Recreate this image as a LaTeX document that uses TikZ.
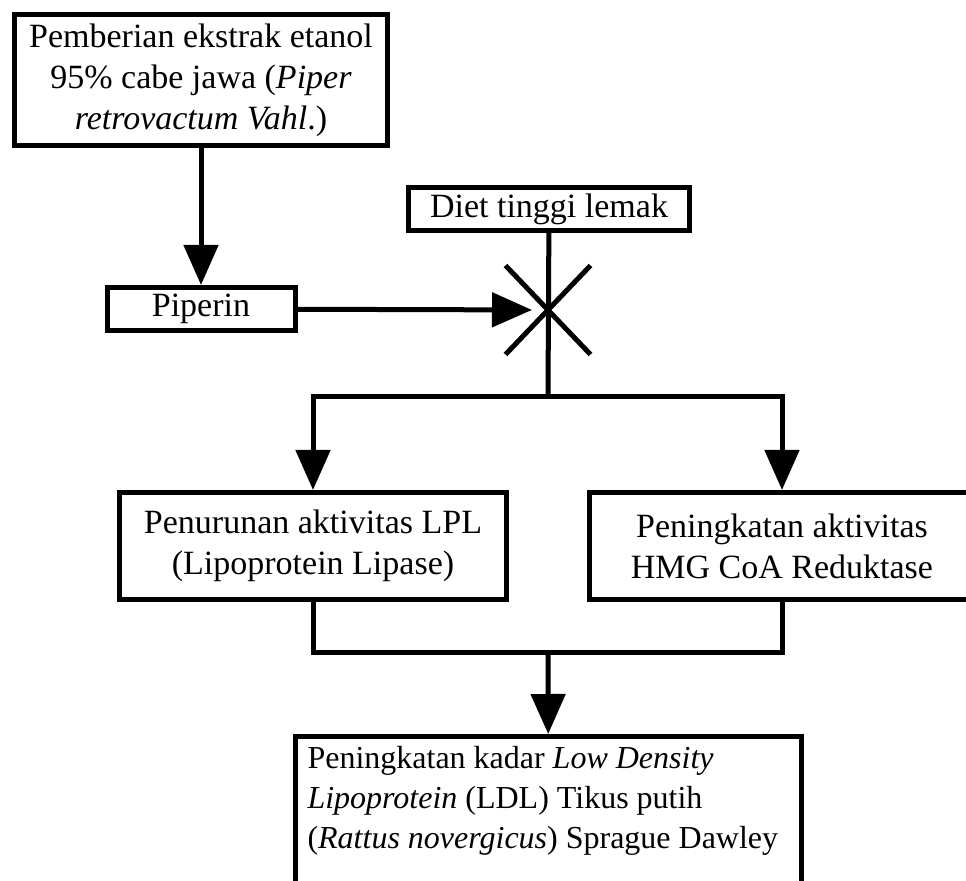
\documentclass[tikz,border=0pt]{standalone}
\usepackage{fontspec}
\setmainfont{Liberation Serif}
\usetikzlibrary{arrows.meta,shapes.misc}

\begin{document}
\begin{tikzpicture}[x=0.5pt,y=-0.5pt,line width=2.5pt,>={Triangle[length=20pt,width=17pt]},
	squarednode/.style={rectangle,draw,inner sep=0pt,align=center,font=\fontsize{17}{20.5}\selectfont},
	crossnode/.style={cross out,draw,inner sep=0pt,minimum width=40pt,minimum height=42pt}]
		\useasboundingbox (0,0) rectangle (966,881);
		\node [squarednode,minimum width=186.5pt,minimum height=65.5pt] (ekstrak) at (201,80) {Pemberian ekstrak etanol\\95\% cabe jawa (\textit{Piper}\\\textit{retrovactum Vahl}.)};
		\node [squarednode,minimum width=94pt,minimum height=21.5pt] (piperin) at (201,309) {Piperin};
		\node [squarednode,minimum width=140.5pt,minimum height=21.5pt] (diet) at (549,209) {Diet tinggi lemak};
		\node [crossnode] (silang) at (548,310) {};
		\coordinate (pisah) at (548,397);
		\node [squarednode,minimum width=193.5pt,minimum height=53.5pt] (lpl) at (313,546) {Penurunan aktivitas LPL\\(Lipoprotein Lipase)};
		\node [squarednode,minimum width=192.5pt,minimum height=53.5pt] (hmg) at (782,546) {Peningkatan aktivitas\\HMG CoA Reduktase};
		\coordinate (gabung) at (548,653);
		\node [squarednode,anchor=north,inner xsep=6pt,inner ysep=5pt,font=\fontsize{16}{20}\selectfont] (ldl) at (548.5,734) {\parbox[t][80pt][t]{241pt}{Peningkatan kadar \textit{Low Density}\\\textit{Lipoprotein} (LDL) Tikus putih\\(\textit{Rattus novergicus}) Sprague Dawley}};
		\draw[->] (ekstrak) -- (piperin);
		\draw[->,shorten >=8pt] (piperin) -- (silang.center);
		\draw (diet) -- (pisah);
		\draw[->] (pisah) -| (lpl);
		\draw[->] (pisah) -| (hmg);
		\draw (lpl) |- (gabung);
		\draw (hmg) |- (gabung);
		\draw[->] (gabung) -- (ldl);
	\end{tikzpicture}
\end{document}
